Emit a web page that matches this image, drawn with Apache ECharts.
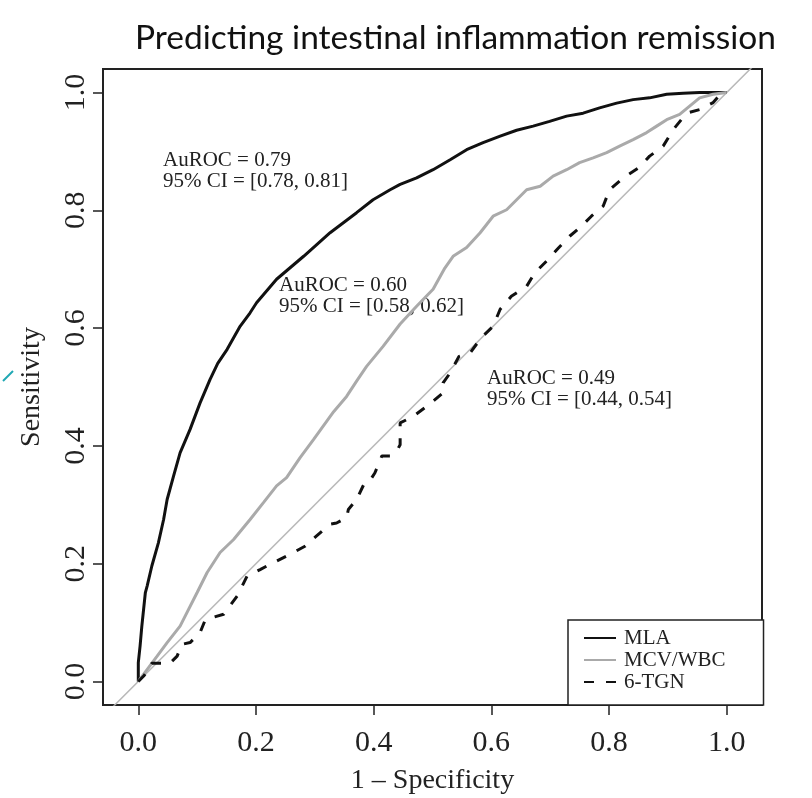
<!DOCTYPE html>
<html>
<head>
<meta charset="utf-8">
<title>ROC</title>
<script src="https://cdn.jsdelivr.net/npm/echarts@6/dist/echarts.min.js"></script>
<style>
  html, body { margin: 0; padding: 0; background: #fff; }
  #roc-chart { width: 812px; height: 798px; }
</style>
</head>
<body>
<div id="roc-chart"></div>
<script>
// 坐标轴刻度
const tickValues = [0, 0.2, 0.4, 0.6, 0.8, 1.0]
const tickLabels = ['0.0', '0.2', '0.4', '0.6', '0.8', '1.0']
const seriesNames = ['MLA', 'MCV/WBC', '6-TGN']

// MLA (1 - specificity, sensitivity)
const mlaX = [0, 0, 0.003, 0.006, 0.012, 0.015, 0.023, 0.034, 0.043, 0.049,
  0.060, 0.071, 0.088, 0.105, 0.122, 0.135, 0.151, 0.173, 0.190, 0.201,
  0.235, 0.281, 0.326, 0.371, 0.399, 0.428, 0.445, 0.473, 0.501, 0.530,
  0.558, 0.586, 0.615, 0.643, 0.671, 0.699, 0.728, 0.756, 0.784, 0.813,
  0.841, 0.869, 0.898, 0.926, 0.954, 0.983, 1.0]
const mlaY = [0, 0.032, 0.06, 0.094, 0.151, 0.162, 0.196, 0.235, 0.275, 0.309,
  0.349, 0.388, 0.428, 0.473, 0.513, 0.540, 0.564, 0.603, 0.626, 0.643,
  0.683, 0.722, 0.762, 0.796, 0.818, 0.835, 0.844, 0.855, 0.869, 0.886,
  0.903, 0.915, 0.926, 0.936, 0.943, 0.951, 0.960, 0.965, 0.974, 0.982,
  0.988, 0.991, 0.997, 0.999, 1.0, 1.0, 1.0]

// MCV/WBC
const mcvX = [0, 0.032, 0.049, 0.071, 0.100, 0.117, 0.139, 0.162, 0.190, 0.213,
  0.235, 0.252, 0.275, 0.298, 0.332, 0.354, 0.371, 0.388, 0.416, 0.445,
  0.473, 0.501, 0.521, 0.535, 0.558, 0.581, 0.603, 0.626, 0.643, 0.660,
  0.683, 0.705, 0.728, 0.750, 0.773, 0.796, 0.818, 0.841, 0.864, 0.881,
  0.898, 0.920, 0.937, 0.954, 0.977, 1.0]
const mcvY = [0, 0.043, 0.066, 0.094, 0.151, 0.185, 0.219, 0.241, 0.275, 0.304,
  0.332, 0.346, 0.380, 0.411, 0.458, 0.484, 0.510, 0.535, 0.569, 0.607,
  0.637, 0.666, 0.702, 0.722, 0.737, 0.762, 0.790, 0.801, 0.818, 0.835,
  0.841, 0.858, 0.869, 0.881, 0.889, 0.898, 0.909, 0.920, 0.932, 0.943,
  0.954, 0.963, 0.977, 0.991, 0.997, 1.0]

// 6-TGN
const tgnX = [0, 0.010, 0.023, 0.054, 0.066, 0.074, 0.088, 0.105, 0.114, 0.145,
  0.168, 0.185, 0.207, 0.230, 0.258, 0.284, 0.303, 0.326, 0.337, 0.354,
  0.357, 0.371, 0.383, 0.391, 0.402, 0.414, 0.428, 0.439, 0.445, 0.445,
  0.467, 0.490, 0.518, 0.518, 0.530, 0.545, 0.564, 0.583, 0.603, 0.615,
  0.634, 0.660, 0.674, 0.694, 0.714, 0.733, 0.753, 0.770, 0.790, 0.801,
  0.824, 0.850, 0.869, 0.892, 0.909, 0.932, 0.954, 0.977, 0.991, 1.0]
const tgnY = [0, 0.010, 0.031, 0.031, 0.043, 0.063, 0.066, 0.083, 0.105, 0.114,
  0.145, 0.179, 0.190, 0.202, 0.216, 0.230, 0.247, 0.267, 0.269, 0.278,
  0.292, 0.309, 0.334, 0.337, 0.354, 0.383, 0.383, 0.391, 0.402, 0.439,
  0.450, 0.467, 0.490, 0.507, 0.524, 0.552, 0.558, 0.584, 0.603, 0.632,
  0.654, 0.671, 0.694, 0.714, 0.736, 0.756, 0.773, 0.790, 0.807, 0.835,
  0.855, 0.872, 0.892, 0.909, 0.937, 0.965, 0.971, 0.983, 0.999, 1.0]

// 对角参考线
const diagX = [-0.1, 1.1]
const diagY = [-0.1, 1.1]

const annotations = [
  'AuROC = 0.79\n95% CI = [0.78, 0.81]',
  'AuROC = 0.60\n95% CI = [0.58, 0.62]',
  'AuROC = 0.49\n95% CI = [0.44, 0.54]'
]

function zip(xs, ys) {
  return xs.map((x, i) => [x, ys[i]])
}

const serif = 'Liberation Serif, DejaVu Serif, serif'

const axisCommon = {
  type: 'value',
  axisLine: { show: false, onZero: false },
  splitLine: { show: false },
  axisTick: {
    show: true,
    length: 10,
    customValues: tickValues,
    lineStyle: { color: '#222', width: 1.5 }
  },
  axisLabel: {
    customValues: tickValues,
    fontFamily: serif,
    fontSize: 30,
    color: '#222',
    formatter: (v) => tickLabels[tickValues.indexOf(v)] || ''
  },
  nameLocation: 'middle',
  nameTextStyle: { fontFamily: serif, fontSize: 28, color: '#222' }
}

const chartOption = {
  animation: false,
  backgroundColor: '#fff',
  grid: {
    left: 103,
    top: 69,
    width: 659,
    height: 636,
    outerBoundsMode: 'none',
    show: true,
    borderColor: '#222',
    borderWidth: 2,
    backgroundColor: 'transparent'
  },
  xAxis: Object.assign({}, axisCommon, {
    min: -0.06,
    max: 1.06,
    name: '1 – Specificity',
    nameGap: 62,
    axisLabel: Object.assign({}, axisCommon.axisLabel, { margin: 23 })
  }),
  yAxis: Object.assign({}, axisCommon, {
    min: -0.04,
    max: 1.04,
    name: 'Sensitivity',
    nameGap: 57,
    axisLabel: Object.assign({}, axisCommon.axisLabel, { margin: 12, rotate: 90 })
  }),
  legend: {
    data: seriesNames,
    orient: 'vertical',
    left: 568,
    top: 620,
    padding: [7, 38, 12, 15],
    itemWidth: 32,
    itemHeight: 14,
    itemGap: 0,
    backgroundColor: '#fff',
    borderColor: '#222',
    borderWidth: 1.5,
    borderRadius: 0,
    itemStyle: { opacity: 0 },
    textStyle: { fontFamily: serif, fontSize: 21, color: '#222', lineHeight: 22, padding: [0, 0, 0, 3] }
  },
  graphic: [
    {
      type: 'text',
      left: 135,
      top: 21,
      style: {
        text: 'Predicting intestinal inflammation remission',
        font: '33.5px Lato, "Open Sans", sans-serif',
        fill: '#111'
      }
    },
    {
      type: 'text', x: 163, y: 150,
      style: { text: annotations[0], font: '21px ' + serif, fill: '#222', lineHeight: 21 }
    },
    {
      type: 'text', x: 279, y: 275,
      style: { text: annotations[1], font: '21px ' + serif, fill: '#222', lineHeight: 21 }
    },
    {
      type: 'text', x: 487, y: 368,
      style: { text: annotations[2], font: '21px ' + serif, fill: '#222', lineHeight: 21 }
    },
    {
      // 左侧的青色小标记
      type: 'polyline',
      shape: { points: [[3, 381], [13, 371]] },
      style: { stroke: '#20a8b4', lineWidth: 2 }
    }
  ],
  series: [
    {
      name: 'diag',
      type: 'line',
      data: zip(diagX, diagY),
      symbol: 'none',
      silent: true,
      clip: true,
      lineStyle: { color: '#b8b8b8', width: 1.5 }
    },
    {
      name: seriesNames[0],
      type: 'line',
      data: zip(mlaX, mlaY),
      symbol: 'none',
      clip: true,
      lineStyle: { color: '#111', width: 3 },
      itemStyle: { color: '#111' }
    },
    {
      name: seriesNames[1],
      type: 'line',
      data: zip(mcvX, mcvY),
      symbol: 'none',
      clip: true,
      lineStyle: { color: '#aaaaaa', width: 3 },
      itemStyle: { color: '#aaaaaa' }
    },
    {
      name: seriesNames[2],
      type: 'line',
      data: zip(tgnX, tgnY),
      symbol: 'none',
      clip: true,
      lineStyle: { color: '#111', width: 3, type: [10, 12] },
      itemStyle: { color: '#111' }
    }
  ]
}

const chartObj = echarts.init(document.getElementById('roc-chart'), null, { renderer: 'canvas' })
chartObj.setOption(chartOption, true)
</script>
</body>
</html>
